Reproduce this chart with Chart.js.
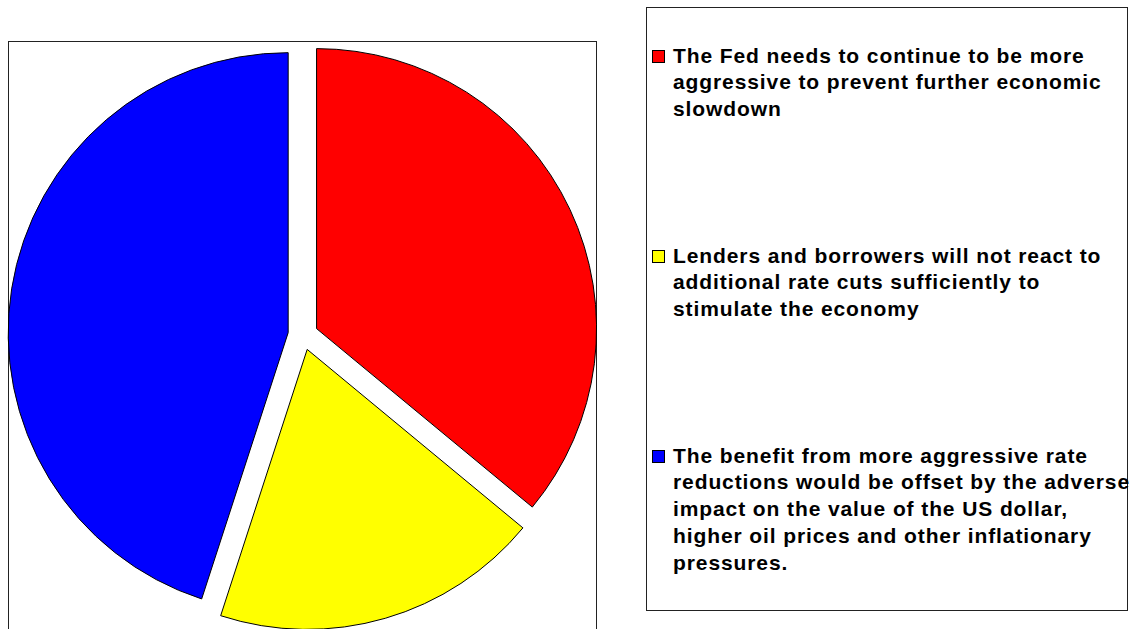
<!DOCTYPE html>
<html>
<head>
<meta charset="utf-8">
<script src="https://cdn.jsdelivr.net/npm/chart.js@4/dist/chart.umd.min.js"></script>
<style>
  html, body { margin: 0; padding: 0; background: #fff; width: 1133px; height: 629px; overflow: hidden; }
  #plotBox { position: absolute; left: 8px; top: 41px; width: 589px; height: 640px; border: 1px solid #222; box-sizing: border-box; }
  #pieWrap { position: absolute; left: 3px; top: 34.5px; width: 600px; height: 600px; }
  #legendBox { position: absolute; left: 646px; top: 7px; width: 482px; height: 604px; border: 1px solid #222; box-sizing: border-box; }
  .item { position: absolute; left: 652px; font-family: "Liberation Sans", Arial, sans-serif; font-weight: bold; font-size: 21px; letter-spacing: 0.9px; line-height: 26.7px; color: #000; }
  .swatch { position: absolute; left: 0; top: 7px; width: 13px; height: 13px; border: 1px solid #000; box-sizing: border-box; }
  .txt { position: absolute; left: 21px; top: 0; white-space: pre; }
</style>
</head>
<body>
<div id="plotBox"></div>
<div id="pieWrap"><canvas id="pie" width="600" height="600"></canvas></div>
<div id="legendBox"></div>
<div id="legend"></div>
<script>
const categories = [
  "The Fed needs to continue to be more\naggressive to prevent further economic\nslowdown",
  "Lenders and borrowers will not react to\nadditional rate cuts sufficiently to\nstimulate the economy",
  "The benefit from more aggressive rate\nreductions would be offset by the adverse\nimpact on the value of the US dollar,\nhigher oil prices and other inflationary\npressures."
];
const values = [36, 19, 45];
const colors = ["#FF0000", "#FFFF00", "#0000FF"];

// Explode each slice along its bisector by a fixed distance (Excel style),
// keeping every slice at the same radius.
const EXPLODE_PX = 15;
const origArcDraw = Chart.ArcElement.prototype.draw;
Chart.ArcElement.prototype.draw = function (ctx) {
  const half = (this.startAngle + this.endAngle) / 2;
  ctx.save();
  ctx.translate(Math.cos(half) * EXPLODE_PX, Math.sin(half) * EXPLODE_PX);
  origArcDraw.call(this, ctx);
  ctx.restore();
};

new Chart(document.getElementById('pie'), {
  type: 'pie',
  data: {
    labels: categories,
    datasets: [{
      data: values,
      backgroundColor: colors,
      borderColor: '#000',
      borderWidth: 1,
      offset: 0,
      radius: 280
    }]
  },
  options: {
    responsive: false,
    animation: false,
    events: [],
    layout: { padding: 0 },
    plugins: { legend: { display: false }, tooltip: { enabled: false } }
  }
});

const legend = document.getElementById('legend');
categories.forEach((c, i) => {
  const it = document.createElement('div');
  it.className = 'item';
  it.style.top = (42.7 + i * 200) + 'px';
  const sw = document.createElement('div');
  sw.className = 'swatch';
  sw.style.background = colors[i];
  const tx = document.createElement('div');
  tx.className = 'txt';
  tx.textContent = c;
  it.appendChild(sw);
  it.appendChild(tx);
  legend.appendChild(it);
});
</script>
</body>
</html>
